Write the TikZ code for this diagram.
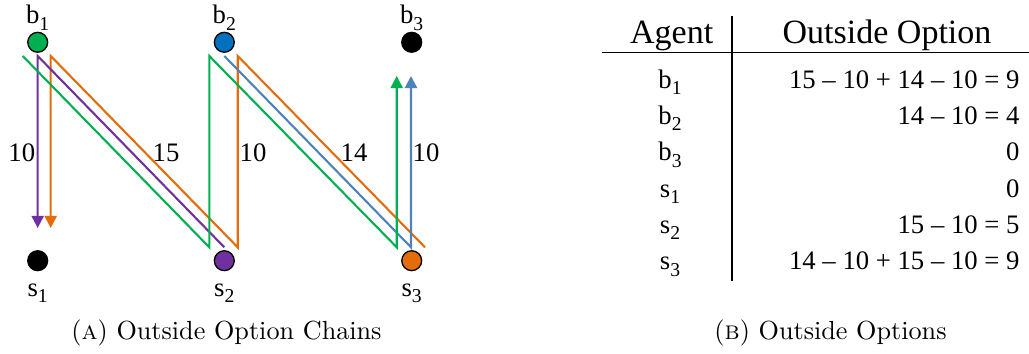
\documentclass[tikz,border=0pt]{standalone}
\usepackage{fontspec}
\usetikzlibrary{arrows.meta,calc}
\newfontfamily\timesfont{Liberation Serif}
\definecolor{ChainGreen}{HTML}{00B050}
\definecolor{ChainOrange}{HTML}{E46C0A}
\definecolor{ChainPurple}{HTML}{7030A0}
\definecolor{ChainBlue}{HTML}{4F81BD}
\definecolor{NodeBlue}{HTML}{0070C0}
\newcommand{\agentsub}[1]{\raisebox{-2.4pt}{\fontsize{7.5}{9}\selectfont#1}}

\begin{document}
\begin{tikzpicture}[
  x=0.382pt, y=-0.382pt,
  agent/.style={circle, draw=black, line width=0.5pt, minimum size=7.6pt, inner sep=0pt},
  tag/.style={font=\timesfont\fontsize{10.2}{12}\selectfont, anchor=base, inner sep=0pt},
  head/.style={font=\timesfont\fontsize{13}{15}\selectfont, anchor=base, inner sep=0pt},
  cell/.style={font=\timesfont\fontsize{10.2}{12}\selectfont, inner sep=0pt},
  caption/.style={font=\fontsize{10}{12}\selectfont, anchor=base, inner sep=0pt},
  chain/.style={line width=0.8pt, -{Triangle[length=4.6pt,width=4.6pt]}},
  rule/.style={line width=0.6pt}
]
\useasboundingbox (0,0) rectangle (1029,354);

% buyers and sellers
\node[agent, fill=ChainGreen] (b1) at (37.7,42.3) {};
\node[agent, fill=NodeBlue] (b2) at (224.3,42.3) {};
\node[agent, fill=black] (b3) at (411.7,42.3) {};
\node[agent, fill=black] (s1) at (37.7,260.7) {};
\node[agent, fill=ChainPurple] (s2) at (224.3,260.7) {};
\node[agent, fill=ChainOrange] (s3) at (411.7,260.7) {};
\foreach \k in {1,2,3} {
  \node[tag] (b\k name) at ($(b\k)+(0,-18.3)$) {b\agentsub{\k}};
  \node[tag] (s\k name) at ($(s\k)+(0,36)$) {s\agentsub{\k}};
}

% chain corners
\coordinate (g1) at (22.7,56);
\coordinate (g2) at (209.3,247.3);
\coordinate (g3) at (209.3,56);
\coordinate (g4) at (396.7,247.3);
\coordinate (g5) at (396.7,76);
\coordinate (o1) at (425,247.3);
\coordinate (o2) at (237.7,56);
\coordinate (o3) at (237.7,247.3);
\coordinate (o4) at (50.7,56);
\coordinate (o5) at (50.7,228);
\coordinate (p1) at (224.3,247.3);
\coordinate (p2) at (37.7,56);
\coordinate (p3) at (37.7,228);
\coordinate (u1) at (224.3,56);
\coordinate (u2) at (411,247.3);
\coordinate (u3) at (411,76);

\draw[chain, ChainOrange] (o1) -- (o2) -- (o3) -- (o4) -- (o5);
\draw[chain, ChainPurple] (p1) -- (p2) -- (p3);
\draw[chain, ChainBlue] (u1) -- (u2) -- (u3);
\draw[chain, ChainGreen] (g1) -- (g2) -- (g3) -- (g4) -- (g5);

\node[tag] (w1) at (21.8,161.7) {10};
\node[tag] (w2) at (166,161.7) {15};
\node[tag] (w3) at (253,161.7) {10};
\node[tag] (w4) at (354,161.7) {14};
\node[tag] (w5) at (426,161.7) {10};

% table
\node[head] (hagent) at (671.7,43.3) {Agent};
\node[head] (hoption) at (887,43.3) {Outside Option};
\draw[rule] (601.7,52.3) -- (1029,52.3);
\draw[rule] (732,16) -- (732,281);
\foreach \who/\k/\val [count=\i from 0] in {b/1/{15 – 10 + 14 – 10 = 9}, b/2/{14 – 10 = 4}, b/3/0,
    s/1/0, s/2/{15 – 10 = 5}, s/3/{14 – 10 + 15 – 10 = 9}} {
  \node[cell, anchor=base] (row\i) at (670,88.3+36.3*\i) {\who\agentsub{\k}};
  \node[cell, anchor=base east] (opt\i) at (1020,88.3+36.3*\i) {\val};
}

\node[caption] (capA) at (226.5,340) {(\textsc{a}) Outside Option Chains};
\node[caption] (capB) at (830.5,340) {(\textsc{b}) Outside Options};
\end{tikzpicture}
\end{document}
